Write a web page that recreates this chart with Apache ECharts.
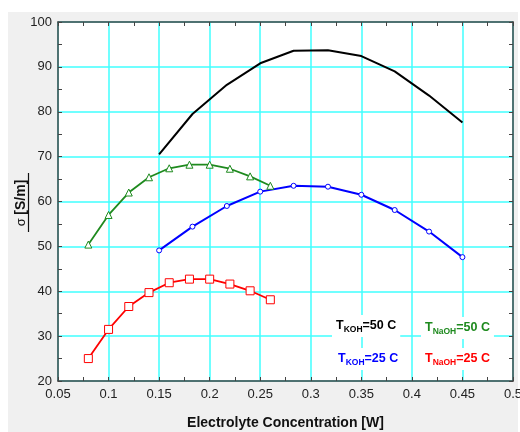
<!DOCTYPE html>
<html>
<head>
<meta charset="utf-8">
<script src="https://cdn.jsdelivr.net/npm/echarts@6/dist/echarts.min.js"></script>
<style>
html,body{margin:0;padding:0;background:#fff;}
#c{width:520px;height:432px;}
</style>
</head>
<body>
<div id="c"></div>
<script>
var xKOH = [0.15, 0.183, 0.217, 0.25, 0.283, 0.317, 0.35, 0.383, 0.417, 0.45];
var koh50 = [70.5, 79.5, 86.0, 90.8, 93.6, 93.7, 92.4, 89.0, 83.6, 77.6];
var koh25 = [49.1, 54.4, 59.0, 62.2, 63.5, 63.3, 61.5, 58.1, 53.3, 47.6];
var xNaOH = [0.08, 0.10, 0.12, 0.14, 0.16, 0.18, 0.20, 0.22, 0.24, 0.26];
var naoh50 = [50.4, 57.0, 62.0, 65.4, 67.4, 68.2, 68.2, 67.3, 65.6, 63.5];
var naoh25 = [25.0, 31.5, 36.6, 39.7, 41.9, 42.7, 42.7, 41.6, 40.1, 38.1];

function pairs(xs, ys){ return xs.map(function(x,i){ return [x, ys[i]]; }); }

var chart = echarts.init(document.getElementById('c'), null, {renderer:'canvas'});
var gridColor = '#40ffff';
var axisColor = '#444';
var font = 'Liberation Sans, Arial, sans-serif';

function lbl(s, sub, rest, color){
  return {
    type: 'text',
    z: 100,
    style: {
      text: '{t|' + s + '}{s|' + sub + '}{t|' + rest + '}',
      backgroundColor: '#fff',
      padding: [3, 4, 3, 4],
      rich: {
        t: {fontSize: 12.5, fontWeight: 'bold', fill: color, fontFamily: font, lineHeight: 16, verticalAlign: 'middle'},
        s: {fontSize: 8.5, fontWeight: 'bold', fill: color, fontFamily: font, lineHeight: 16, verticalAlign: 'bottom', padding: [6,0,0,0]}
      }
    }
  };
}

var g1 = lbl('T','KOH','=50 C','#000'); g1.left = 332; g1.top = 315;
var g2 = lbl('T','NaOH','=50 C','#1e8a1e'); g2.left = 421; g2.top = 317;
var g3 = lbl('T','KOH','=25 C','#0000ff'); g3.left = 334; g3.top = 348;
var g4 = lbl('T','NaOH','=25 C','#ff0000'); g4.left = 421; g4.top = 348;

var fmt = function(v){ return String(Math.round(v*100)/100); };

var option = {
  backgroundColor: '#fff',
  animation: false,
  grid: {left: 58, right: 7, top: 22, bottom: 51, show: true, backgroundColor: '#fff', borderWidth: 0, outerBoundsMode: 'none', containLabel: false},
  graphic: [
    {type: 'rect', left: 8, top: 12, z: -10, silent: true, shape: {width: 510, height: 420}, style: {fill: '#f0f0f0'}},
    {type: 'text', x: 21, y: 203, rotation: Math.PI / 2, z: 100,
     style: {text: '{a|σ }{b|[S/m]}', align: 'center', verticalAlign: 'middle',
       rich: {
         a: {fontSize: 13, fill: '#111', fontFamily: font},
         b: {fontSize: 14, fontWeight: 'bold', fill: '#111', fontFamily: font}
       }}},
    {type: 'line', z: 100, shape: {x1: 28.5, y1: 173, x2: 28.5, y2: 232}, style: {stroke: '#111', lineWidth: 1.2}},
    g1, g2, g3, g4
  ],
  xAxis: [{
    type: 'value', min: 0.05, max: 0.5, interval: 0.05,
    name: 'Electrolyte Concentration [W]', nameLocation: 'middle', nameGap: 35,
    nameTextStyle: {fontSize: 14, fontWeight: 'bold', color: '#111', fontFamily: font},
    axisLine: {show: true, onZero: false, lineStyle: {color: axisColor, width: 1.5}},
    axisTick: {show: true, inside: true, length: 4, lineStyle: {color: axisColor}},
    minorTick: {show: true, splitNumber: 2, length: 4, lineStyle: {color: axisColor}},
    axisLabel: {fontSize: 13, color: '#222', fontFamily: font, margin: 7, formatter: fmt},
    splitLine: {show: true, lineStyle: {color: gridColor, width: 1.5}}
  }, {
    type: 'value', position: 'top', min: 0.05, max: 0.5, interval: 0.05,
    axisLine: {show: true, onZero: false, lineStyle: {color: axisColor, width: 1.5}},
    axisTick: {show: true, inside: true, length: 4, lineStyle: {color: axisColor}},
    minorTick: {show: true, splitNumber: 2, length: 4, lineStyle: {color: axisColor}},
    axisLabel: {show: false}, splitLine: {show: false}
  }],
  yAxis: [{
    type: 'value', min: 20, max: 100, interval: 10,
    axisLine: {show: true, onZero: false, lineStyle: {color: axisColor, width: 1.5}},
    axisTick: {show: true, inside: true, length: 4, lineStyle: {color: axisColor}},
    minorTick: {show: true, splitNumber: 2, length: 4, lineStyle: {color: axisColor}},
    axisLabel: {fontSize: 13, color: '#222', fontFamily: font, margin: 6},
    splitLine: {show: true, lineStyle: {color: gridColor, width: 1.5}}
  }, {
    type: 'value', position: 'right', min: 20, max: 100, interval: 10,
    axisLine: {show: true, onZero: false, lineStyle: {color: axisColor, width: 1.5}},
    axisTick: {show: true, inside: true, length: 4, lineStyle: {color: axisColor}},
    minorTick: {show: true, splitNumber: 2, length: 4, lineStyle: {color: axisColor}},
    axisLabel: {show: false}, splitLine: {show: false}
  }],
  series: [
    {type: 'line', name: 'KOH 50C', data: pairs(xKOH, koh50), showSymbol: false, symbol: 'none',
     lineStyle: {color: '#000', width: 2}, itemStyle: {color: '#000'}, z: 5},
    {type: 'line', name: 'KOH 25C', data: pairs(xKOH, koh25), symbol: 'circle', symbolSize: 5,
     lineStyle: {color: '#0000ff', width: 2}, itemStyle: {color: '#fff', borderColor: '#0000ff', borderWidth: 1}, z: 5},
    {type: 'line', name: 'NaOH 50C', data: pairs(xNaOH, naoh50), symbol: 'triangle', symbolSize: 7,
     lineStyle: {color: '#1e8a1e', width: 1.8}, itemStyle: {color: '#fff', borderColor: '#1e8a1e', borderWidth: 1}, z: 5},
    {type: 'line', name: 'NaOH 25C', data: pairs(xNaOH, naoh25), symbol: 'rect', symbolSize: 8,
     lineStyle: {color: '#ff0000', width: 1.8}, itemStyle: {color: '#fff', borderColor: '#ff0000', borderWidth: 1}, z: 5}
  ]
};
chart.setOption(option);
</script>
</body>
</html>
